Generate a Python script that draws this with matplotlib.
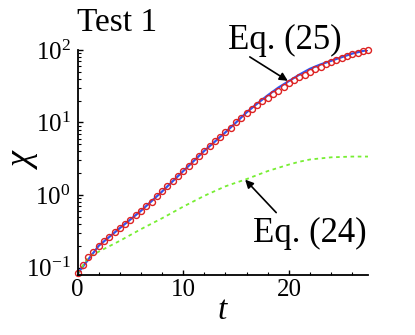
import matplotlib
matplotlib.use("Agg")
import matplotlib.pyplot as plt
from matplotlib.ticker import MultipleLocator, LogLocator, NullFormatter

plt.rcParams['font.family'] = ['Liberation Serif', 'DejaVu Serif']
plt.rcParams['mathtext.fontset'] = 'custom'
plt.rcParams['mathtext.rm'] = 'Liberation Serif'
plt.rcParams['mathtext.it'] = 'Liberation Serif:italic'

# simulation (red circles)
t_sim = [0, 0.5, 1, 1.5, 2, 2.5, 3, 3.5, 4, 4.5, 5, 5.5, 6, 6.5, 7, 7.5, 8, 8.5,
         9, 9.5, 10, 10.5, 11, 11.5, 12, 12.5, 13, 13.5, 14, 14.5, 15, 15.5,
         16, 16.5, 17, 17.5, 18, 18.5, 19, 19.5, 20, 20.5, 21, 21.5, 22, 22.5,
         23, 23.5, 24, 24.5, 25, 25.5, 26, 26.5, 27, 27.5]
chi_sim = [0.083, 0.108, 0.138, 0.166, 0.200, 0.232, 0.267, 0.307, 0.350, 0.398,
           0.455, 0.525, 0.607, 0.700, 0.813, 0.955, 1.12, 1.32, 1.55, 1.82,
           2.14, 2.51, 2.95, 3.47, 4.07, 4.73, 5.50, 6.31, 7.33, 8.51, 10.0,
           11.6, 13.5, 15.3, 17.4, 19.5, 21.9, 24.5, 27.5, 30.9, 34.7, 38.0,
           41.7, 45.7, 50.1, 54.3, 58.9, 63.1, 67.6, 72.4, 77.6, 82.2, 87.1,
           91.2, 95.5, 100.0]

# Eq. (25), blue line
t_eq25 = [0, 2, 4, 6, 8, 10, 12, 14, 15, 16, 17, 18, 19, 20, 21, 22, 23, 24,
          25, 26, 27, 27.5]
chi_eq25 = [0.083, 0.200, 0.350, 0.607, 1.12, 2.14, 4.07, 7.33, 10.0, 13.8,
            18.2, 23.7, 30.2, 37.2, 45.7, 55.0, 63.1, 70.8, 79.4, 89.1, 96.6,
            100.0]

# Eq. (24), green dotted
t_eq24 = [0, 1, 2, 4, 6, 8, 10, 12, 14, 16, 18, 20, 21, 22, 24, 26, 27.5]
chi_eq24 = [0.083, 0.138, 0.166, 0.234, 0.339, 0.479, 0.692, 0.977, 1.32,
            1.66, 2.14, 2.63, 2.88, 3.09, 3.31, 3.39, 3.39]

fig = plt.figure(figsize=(4.15, 3.35), dpi=100)
ax = fig.add_axes([0.187, 0.179, 0.700, 0.672])

ax.plot(t_eq25, chi_eq25, color='#3355ee', lw=1.6)
ax.plot(t_eq24, chi_eq24, color='#77ee33', lw=1.3, ls=(0, (2, 2)))
ax.plot(t_sim, chi_sim, 'o', mfc='none', mec='#dd2222', ms=4.3, mew=1.0,
        clip_on=False)

ax.set_yscale('log')
ax.set_xlim(0, 27.5)
ax.set_ylim(0.079, 100)

for s in ['top', 'right']:
    ax.spines[s].set_visible(False)
for s in ['left', 'bottom']:
    ax.spines[s].set_linewidth(1.3)

ax.xaxis.set_major_locator(MultipleLocator(10))
ax.xaxis.set_minor_locator(MultipleLocator(2))
ax.yaxis.set_major_locator(LogLocator(base=10, numticks=10))
ax.yaxis.set_minor_locator(LogLocator(base=10, subs=range(2, 10), numticks=10))
ax.yaxis.set_minor_formatter(NullFormatter())
ax.tick_params(which='both', direction='in', labelsize=18)
ax.tick_params(which='major', length=3.5, width=1)
ax.tick_params(which='minor', length=2.5, width=0.8)
ax.tick_params(axis='x', pad=3)
ax.tick_params(axis='y', pad=5)

ax.set_xlabel(r'$t$', fontsize=24, labelpad=-4)
ax.set_ylabel(r'$\chi$', fontsize=26)
ax.yaxis.set_label_coords(-0.13, 0.52)

fig.text(77 / 415, 1 - 31 / 335, 'Test 1', fontsize=24, ha='left',
         va='baseline')

ax.annotate('', xy=(19.9, 37.5), xytext=(16.3, 80.1),
            arrowprops=dict(arrowstyle='-|>', color='black', lw=1.2,
                            mutation_scale=12, shrinkA=0, shrinkB=0))
ax.annotate('', xy=(15.86, 1.63), xytext=(18.8, 0.573),
            arrowprops=dict(arrowstyle='-|>', color='black', lw=1.2,
                            mutation_scale=12, shrinkA=0, shrinkB=0))
fig.text(285 / 415, 1 - 40 / 335, 'Eq. (25)', fontsize=25, ha='center',
         va='center')
fig.text(310 / 415, 1 - 233 / 335, 'Eq. (24)', fontsize=25, ha='center',
         va='center')

fig.savefig('out.png', dpi=100)
